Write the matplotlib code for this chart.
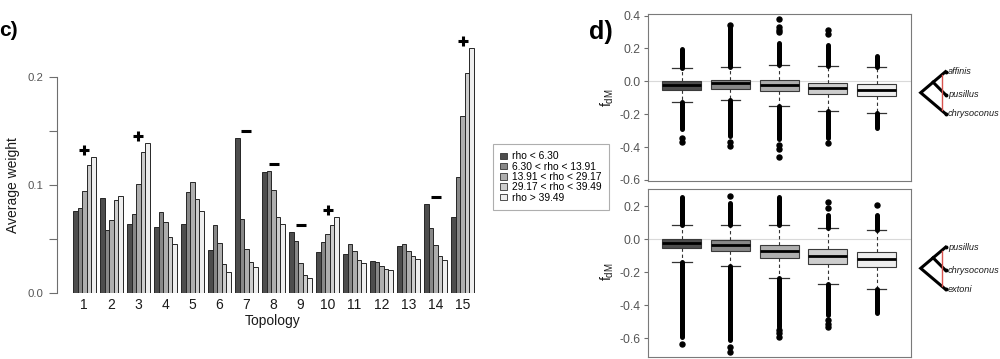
import matplotlib
matplotlib.use('Agg')
import matplotlib.pyplot as plt
from matplotlib.patches import Patch
import matplotlib.transforms as mtransforms

plt.rcParams['font.family'] = ['Liberation Sans', 'DejaVu Sans']

# ---------------- data: panel c ----------------
topologies = [str(i) for i in range(1, 16)]
rho_labels = ['rho < 6.30', '6.30 < rho < 13.91', '13.91 < rho < 29.17',
              '29.17 < rho < 39.49', 'rho > 39.49']
rho_colors = ['#4d4d4d', '#888888', '#aeaeae', '#cdcdcd', '#eeeeee']
w_rho1 = [0.076, 0.088, 0.0635, 0.061, 0.0638, 0.040, 0.144, 0.1124, 0.0563, 0.0375, 0.0362, 0.0297, 0.0437, 0.082, 0.0703]
w_rho2 = [0.079, 0.0585, 0.0728, 0.0752, 0.0932, 0.0632, 0.0684, 0.1127, 0.0477, 0.0467, 0.0452, 0.0288, 0.0455, 0.0604, 0.107]
w_rho3 = [0.0944, 0.0672, 0.101, 0.0653, 0.1025, 0.0461, 0.0402, 0.0957, 0.0272, 0.0542, 0.0384, 0.0251, 0.0384, 0.0446, 0.1644]
w_rho4 = [0.119, 0.0864, 0.131, 0.0517, 0.0867, 0.0263, 0.0285, 0.0706, 0.0167, 0.0625, 0.0303, 0.022, 0.0337, 0.034, 0.2037]
w_rho5 = [0.1257, 0.090, 0.139, 0.0449, 0.0762, 0.0189, 0.0238, 0.0635, 0.0136, 0.070, 0.0272, 0.0214, 0.0316, 0.0303, 0.2276]
signs = ['+', '', '+', '', '', '', '-', '-', '-', '+', '', '', '', '-', '+']

# ---------------- data: panel d (box summaries) ----------------
top_q1 = [-0.053, -0.045, -0.059, -0.079, -0.089]
top_med = [-0.025, -0.012, -0.024, -0.043, -0.053]
top_q3 = [0.004, 0.010, 0.006, -0.008, -0.018]
top_lo = [-0.128, -0.116, -0.150, -0.179, -0.195]
top_hi = [0.083, 0.089, 0.100, 0.091, 0.087]
top_dense_up = [0.195, 0.33, 0.231, 0.221, 0.156]
top_dense_dn = [-0.29, -0.333, -0.352, -0.347, -0.286]
top_sparse = [[-0.345, -0.368], [0.345, -0.368, -0.394],
              [0.30, 0.315, 0.33, 0.378, -0.39, -0.41, -0.463],
              [0.29, 0.31, -0.378], []]

bot_q1 = [-0.055, -0.071, -0.113, -0.148, -0.168]
bot_med = [-0.022, -0.036, -0.069, -0.101, -0.121]
bot_q3 = [0.004, -0.006, -0.032, -0.059, -0.077]
bot_lo = [-0.139, -0.164, -0.232, -0.271, -0.301]
bot_hi = [0.085, 0.089, 0.087, 0.068, 0.058]
bot_dense_up = [0.258, 0.218, 0.259, 0.147, 0.147]
bot_dense_dn = [-0.59, -0.61, -0.529, -0.459, -0.449]
bot_sparse = [[-0.636], [0.264, -0.65, -0.68], [-0.55, -0.57, -0.59],
              [0.188, 0.228, -0.49, -0.51, -0.53], [0.208]]

top_tips = ['affinis', 'pusillus', 'chrysoconus']
bot_tips = ['pusillus', 'chrysoconus', 'extoni']

# ---------------- figure ----------------
W, H = 1000, 359
fig = plt.figure(figsize=(W / 100, H / 100), dpi=100)


def fx(px):
    return px / W


def fy(py):
    return 1 - py / H


# ---- panel c ----
axL = fig.add_axes([fx(57), fy(292.7), fx(490) - fx(57), fy(34.2) - fy(292.7)])
series = [w_rho1, w_rho2, w_rho3, w_rho4, w_rho5]
for j, (vals, col) in enumerate(zip(series, rho_colors)):
    xs = [1 + 6 * g + j for g in range(len(vals))]
    axL.bar(xs, vals, width=1, align='edge', color=col, edgecolor='#262626',
            linewidth=0.7, label=rho_labels[j])
centers = [1 + 6 * g + 2.5 for g in range(len(topologies))]
off = mtransforms.offset_copy(axL.transData, fig=fig, y=5, units='points')
for g, s in enumerate(signs):
    if not s:
        continue
    top = max(sv[g] for sv in series)
    axL.plot(centers[g], top, marker='+' if s == '+' else '_', ms=6.5, mew=2.2,
             color='k', transform=off, clip_on=False)
axL.set_xlim(-2.56, 93.56)
axL.set_ylim(0, 0.24)
for sp in ['top', 'right', 'bottom']:
    axL.spines[sp].set_visible(False)
axL.spines['left'].set_bounds(0, 0.2)
axL.spines['left'].set_color('#6e6e6e')
axL.spines['left'].set_linewidth(0.8)
axL.set_yticks([0, 0.05, 0.1, 0.15, 0.2])
axL.set_yticklabels(['0.0', '', '0.1', '', '0.2'])
axL.tick_params(axis='y', direction='out', length=5.8, width=0.8, color='#6e6e6e',
                labelsize=8.2, labelcolor='#555555', pad=4)
axL.set_xticks(centers)
axL.set_xticklabels(topologies)
axL.tick_params(axis='x', length=0, labelsize=10, labelcolor='#1a1a1a', pad=4)
fig.text(fx(273), fy(321), 'Topology', ha='center', va='center', fontsize=10, color='#1a1a1a')
fig.text(fx(13.3), fy(185), 'Average weight', ha='center', va='center', rotation=90,
         fontsize=10, color='#1a1a1a')

handles = [Patch(facecolor=c, edgecolor='#333333', linewidth=0.6) for c in rho_colors]
leg = fig.legend(handles, rho_labels, loc='upper left',
                 bbox_to_anchor=(fx(493), fy(144)), bbox_transform=fig.transFigure,
                 fontsize=7.4, frameon=True, fancybox=False, edgecolor='#9a9a9a',
                 borderaxespad=0, handlelength=0.6, handleheight=0.6,
                 handletextpad=0.5, labelspacing=0.03, borderpad=0.72)
leg.get_frame().set_linewidth(0.8)


# ---- panel d ----
def draw_panel(rect, q1, med, q3, lo, hi, dense_up, dense_dn, sparse, ylim, ticks):
    ax = fig.add_axes(rect)
    ax.axhline(0, color='#d9d9d9', lw=0.8, zorder=0)
    stats = []
    for i in range(5):
        stats.append(dict(q1=q1[i], med=med[i], q3=q3[i], whislo=lo[i], whishi=hi[i],
                          fliers=sparse[i]))
    pos = [1, 2, 3, 4, 5]
    res = ax.bxp(stats, positions=pos, widths=0.8, capwidths=0.4, patch_artist=True,
                 boxprops=dict(edgecolor='#3a3a3a', linewidth=0.8),
                 medianprops=dict(color='k', linewidth=2.0),
                 whiskerprops=dict(color='#333333', linewidth=0.8, linestyle=(0, (3, 2.5))),
                 capprops=dict(color='#333333', linewidth=0.9),
                 flierprops=dict(marker='o', markerfacecolor='k', markeredgecolor='k',
                                 markersize=3.6))
    for b, c in zip(res['boxes'], rho_colors):
        b.set_facecolor(c)
    for i, p in enumerate(pos):
        ax.plot([p, p], [hi[i], dense_up[i]], color='k', lw=3.6,
                solid_capstyle='round', zorder=3)
        ax.plot([p, p], [lo[i], dense_dn[i]], color='k', lw=3.6,
                solid_capstyle='round', zorder=3)
    ax.set_xlim(0.3, 5.7)
    ax.set_ylim(*ylim)
    ax.set_xticks([])
    ax.set_yticks(ticks)
    ax.set_yticklabels([f'{t:.1f}' for t in ticks])
    ax.tick_params(axis='y', direction='out', length=3, width=0.8, color='#6e6e6e',
                   labelsize=8.7, labelcolor='#555555', pad=2)
    for sp in ax.spines.values():
        sp.set_color('#7a7a7a')
        sp.set_linewidth(0.8)
    return ax


axT = draw_panel([fx(647.7), fy(181), fx(910.7) - fx(647.7), fy(14) - fy(181)],
                 top_q1, top_med, top_q3, top_lo, top_hi, top_dense_up, top_dense_dn,
                 top_sparse, (-0.607, 0.41), [-0.6, -0.4, -0.2, 0.0, 0.2, 0.4])
axB = draw_panel([fx(647.7), fy(356.7), fx(910.7) - fx(647.7), fy(189) - fy(356.7)],
                 bot_q1, bot_med, bot_q3, bot_lo, bot_hi, bot_dense_up, bot_dense_dn,
                 bot_sparse, (-0.711, 0.305), [-0.6, -0.4, -0.2, 0.0, 0.2])
for cy in [97.5, 272.0]:
    fig.text(fx(607), fy(cy), r'f$_{\mathregular{dM}}$', ha='center', va='center',
             rotation=90, fontsize=10, color='#1a1a1a')

# ---- overlay: panel letters and tree schematics ----
ov = fig.add_axes([0, 0, 1, 1])
ov.set_xlim(0, W)
ov.set_ylim(H, 0)
ov.set_axis_off()
ov.patch.set_visible(False)
ov.text(-1, 31, 'c)', fontsize=15, fontweight='bold', ha='left', va='center')
ov.text(589, 31.5, 'd)', fontsize=18, fontweight='bold', ha='left', va='center')


def draw_tree(cy, tips):
    rx, tx = 920.7, 945.5
    top = (tx, cy - 21)
    bot = (tx, cy + 21)
    inner = ((rx + tx) / 2, cy - 10.5)
    mid = (tx, cy + 2.0)
    ov.plot([top[0], rx, bot[0]], [top[1], cy, bot[1]], color='k', lw=2.2,
            solid_joinstyle='miter')
    ov.plot([inner[0], mid[0]], [inner[1], mid[1]], color='k', lw=2.2)
    ov.plot([941.7, 941.7], [cy - 17.6, cy + 17.6], color='#d9534f', lw=1.0)
    for (x, y), name in zip([top, mid, bot], tips):
        ov.plot(x, y, 'o', color='k', ms=1.8)
        ov.text(x + 2.5, y, name, fontsize=6.6, style='italic', ha='left', va='center',
                color='#1a1a1a')


draw_tree(92.7, top_tips)
draw_tree(268.3, bot_tips)

fig.savefig('out.png', dpi=100)
